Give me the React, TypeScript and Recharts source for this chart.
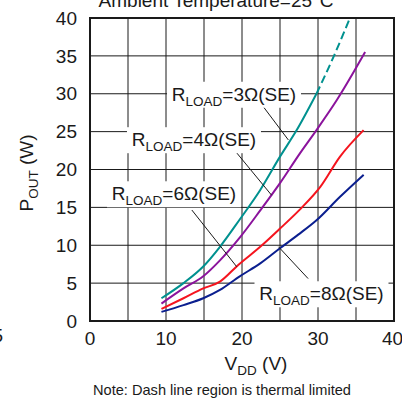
import React from 'react';
import {
  CartesianGrid,
  Line,
  LineChart,
  ReferenceArea,
  ReferenceDot,
  ReferenceLine,
  XAxis,
  YAxis,
} from 'recharts';

// values
const xTicks = [0, 5, 10, 15, 20, 25, 30, 35, 40];
const yTicks = [0, 5, 10, 15, 20, 25, 30, 35, 40];

const vdd3 = [9.4, 12.3, 14.9, 17.1, 19.7, 22.4, 25, 27.2, 29.8];
const pout3 = [3.0, 5.0, 7.2, 9.8, 13.4, 17.3, 21.7, 25.2, 30];
const vdd3Dash = [29.8, 32.1, 34.2];
const pout3Dash = [30, 35, 40];

const vdd4 = [9.4, 12.3, 14.9, 17.1, 19.7, 22.4, 25, 27.6, 29.8, 32.5, 36.2];
const pout4 = [2.3, 4.3, 5.9, 8.0, 11.0, 14.6, 18.2, 22.1, 25.2, 29.2, 35.5];

const vdd6 = [9.4, 12.3, 14.9, 17.1, 19.5, 22.4, 25, 27.6, 30.3, 32.9, 36.0];
const pout6 = [1.6, 3.0, 4.3, 5.2, 7.4, 9.8, 12.2, 14.7, 17.7, 21.7, 25.2];

const vdd8 = [9.4, 12.3, 14.9, 17.1, 19.7, 22.4, 25, 27.4, 29.8, 32.9, 36.0];
const pout8 = [1.2, 2.1, 3.0, 4.1, 5.9, 7.6, 9.6, 11.4, 13.3, 16.4, 19.3];

const loadLabels = ['3Ω(SE)', '4Ω(SE)', '6Ω(SE)', '8Ω(SE)'];

const toPoints = (xs: number[], ys: number[]) => xs.map((x, i) => ({ x, y: ys[i] }));

const FONT = '"Liberation Sans", Arial, Helvetica, sans-serif';
const INK = '#1a1a1a';

// label box with subscripted "LOAD"
const loadLabel = (text: string, w: number) => (props: any) => {
  const { cx, cy } = props;
  return (
    <g>
      <rect x={cx - w / 2} y={cy - 12} width={w} height={26} fill="#fff" />
      <text x={cx} y={cy + 7} textAnchor="middle" fontFamily={FONT} fontSize={19} fill={INK}>
        <tspan>R</tspan>
        <tspan fontSize={13.5} dy={5}>LOAD</tspan>
        <tspan dy={-5}>={text}</tspan>
      </text>
    </g>
  );
};

const App = () => {
  return (
    <div style={{ position: 'absolute', left: 0, top: 0, width: 402, height: 398, background: '#fff' }}>
      <LineChart width={402} height={398} margin={{ top: 18, right: 8, bottom: 37, left: 30 }}>
        <CartesianGrid stroke={INK} strokeWidth={1} />
        <XAxis
          dataKey="x"
          type="number"
          domain={[0, 40]}
          ticks={xTicks}
          tickFormatter={(v) => (v % 10 === 0 ? String(v) : '')}
          tickLine={false}
          axisLine={false}
          tickSize={0}
          tickMargin={11}
          height={40}
          tick={{ fill: INK, fontSize: 19, fontFamily: FONT }}
          allowDataOverflow
        />
        <YAxis
          type="number"
          domain={[0, 40]}
          ticks={yTicks}
          tickLine={false}
          axisLine={false}
          tickSize={0}
          tickMargin={13}
          width={60}
          tick={{ fill: INK, fontSize: 19, fontFamily: FONT }}
          allowDataOverflow
        />
        <ReferenceArea x1={0} x2={40} y1={0} y2={40} fill="none" fillOpacity={0} stroke={INK} strokeWidth={2} />

        <Line data={toPoints(vdd3, pout3)} dataKey="y" type="monotone" stroke="#00918f" strokeWidth={2} dot={false} isAnimationActive={false} />
        <Line data={toPoints(vdd3Dash, pout3Dash)} dataKey="y" type="monotone" stroke="#00918f" strokeWidth={2} strokeDasharray="8 4" dot={false} isAnimationActive={false} />
        <Line data={toPoints(vdd4, pout4)} dataKey="y" type="monotone" stroke="#8b139c" strokeWidth={2} dot={false} isAnimationActive={false} />
        <Line data={toPoints(vdd6, pout6)} dataKey="y" type="monotone" stroke="#f5141e" strokeWidth={2} dot={false} isAnimationActive={false} />
        <Line data={toPoints(vdd8, pout8)} dataKey="y" type="monotone" stroke="#0b1f8f" strokeWidth={2} dot={false} isAnimationActive={false} />

        {/* leader lines */}
        <ReferenceLine segment={[{ x: 22.8, y: 28.3 }, { x: 26.1, y: 23.9 }]} stroke={INK} strokeWidth={1} />
        <ReferenceLine segment={[{ x: 19.3, y: 22.2 }, { x: 23.9, y: 16.6 }]} stroke={INK} strokeWidth={1} />
        <ReferenceLine segment={[{ x: 13.4, y: 14.65 }, { x: 19.3, y: 7.17 }]} stroke={INK} strokeWidth={1} />
        <ReferenceLine segment={[{ x: 24.8, y: 9.8 }, { x: 28.7, y: 5.6 }]} stroke={INK} strokeWidth={1} />

        <ReferenceDot x={18.95} y={30.0} r={0} ifOverflow="visible" shape={loadLabel(loadLabels[0], 134)} />
        <ReferenceDot x={13.68} y={24.0} r={0} ifOverflow="visible" shape={loadLabel(loadLabels[1], 134)} />
        <ReferenceDot x={11.05} y={16.86} r={0} ifOverflow="visible" shape={loadLabel(loadLabels[2], 134)} />
        <ReferenceDot x={30.46} y={3.66} r={0} ifOverflow="visible" shape={loadLabel(loadLabels[3], 134)} />
      </LineChart>

      <svg width={402} height={398} style={{ position: 'absolute', left: 0, top: 0, pointerEvents: 'none' }}>
        <text x={216} y={6.5} textAnchor="middle" fontFamily={FONT} fontSize={19} fill={INK}>
          Ambient Temperature=25°C
        </text>
        <text transform="translate(33,173) rotate(-90)" textAnchor="middle" fontFamily={FONT} fontSize={19} fill={INK}>
          <tspan>P</tspan>
          <tspan fontSize={13.5} dy={5}>OUT</tspan>
          <tspan dy={-5}> (W)</tspan>
        </text>
        <text x={256} y={370} textAnchor="middle" fontFamily={FONT} fontSize={19} fill={INK}>
          <tspan>V</tspan>
          <tspan fontSize={13.5} dy={5}>DD</tspan>
          <tspan dy={-5}> (V)</tspan>
        </text>
        <text x={222} y={395} textAnchor="middle" fontFamily={FONT} fontSize={14.6} fill={INK}>
          Note: Dash line region is thermal limited
        </text>
        <text x={3} y={342} textAnchor="end" fontFamily={FONT} fontSize={19} fill={INK}>
          5
        </text>
      </svg>
    </div>
  );
};

export default App;
